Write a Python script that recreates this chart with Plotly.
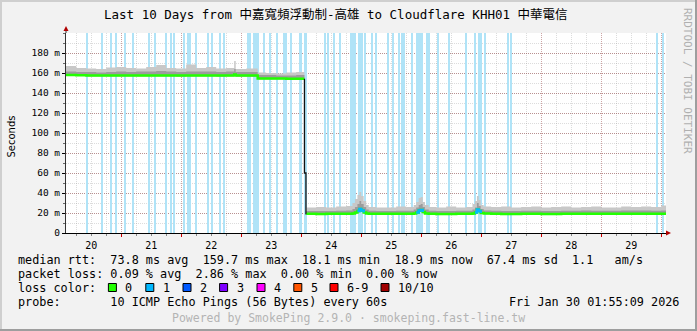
import plotly.graph_objects as go
import pandas as pd

# ---------------- data ----------------
BASE = pd.Timestamp("2026-01-20 00:00:00")
RANGE_START = "2026-01-20 01:55:09"
RANGE_END = "2026-01-30 01:55:09"

# segment before the drop (hours since Jan 20 00:00)
t_a = [1.9, 6, 10, 14, 18, 22, 26, 30, 34, 38, 42, 46, 50, 54, 58, 62, 66, 69.2, 69.8, 74,
       78.6, 82, 86, 90, 94, 97.3]
med_a = [158.0, 157.8, 157.6, 157.5, 157.5, 157.6, 157.6, 157.5, 157.5, 157.6, 157.5, 157.4, 157.5,
         157.6, 157.5, 157.4, 157.5, 158.5, 157.4, 157.4, 154.5, 154.5, 154.5, 154.3, 154.3, 154.3]
lo_a = [157.2, 157.0, 156.8, 156.7, 156.7, 156.8, 156.8, 156.7, 156.7, 156.8, 156.7, 156.6, 156.7,
        156.8, 156.7, 156.6, 156.7, 157.5, 156.6, 156.6, 153.7, 153.7, 153.7, 153.5, 153.5, 153.5]
q_a = [161.5, 161.0, 161.0, 160.5, 161.0, 161.5, 161.0, 161.5, 161.5, 162.0, 161.5, 161.0, 161.5,
       161.5, 161.5, 161.0, 161.5, 164.0, 161.0, 161.0, 158.0, 158.0, 157.5, 157.5, 158.0, 158.0]
hi_a = [167.0, 165.0, 164.5, 164.0, 165.5, 166.0, 165.0, 164.5, 166.0, 168.0, 165.0, 164.5, 168.5,
        165.0, 166.0, 164.5, 165.0, 172.0, 164.0, 164.5, 160.5, 160.0, 159.5, 160.5, 161.0, 160.5]

# the drop
drop_hours = [97.3, 97.9, 98.0]
drop_vals = [154.3, 60.0, 19.2]

# segment after the drop
t_b = [98.0, 102, 106, 110, 114, 116.5, 117.5, 118.5, 119.3, 120, 121, 122, 123, 126, 130, 134,
       138, 141, 142, 143, 143.8, 144.6, 145.5, 147, 150, 154, 158, 162, 164.5, 165.5, 166.3, 167,
       167.8, 169, 172, 176, 180, 184, 188, 192, 196, 200, 204, 208, 212, 216, 220, 224, 228, 232,
       236, 240, 241.92]
med_b = [19.2, 19.1, 19.2, 19.3, 19.3, 19.6, 20.5, 22.0, 24.0, 22.5, 20.5, 19.6, 19.3, 19.2, 19.2,
         19.3, 19.3, 19.5, 20.5, 22.5, 23.0, 21.0, 19.6, 19.3, 19.1, 19.1, 19.2, 19.2, 19.5, 20.5,
         23.5, 22.0, 20.0, 19.4, 19.2, 19.1, 19.1, 19.2, 19.2, 19.1, 19.1, 19.2, 19.2, 19.3, 19.2,
         19.2, 19.2, 19.3, 19.3, 19.3, 19.2, 19.2, 19.2]
lo_b = [18.5, 18.4, 18.5, 18.6, 18.6, 18.9, 19.5, 20.5, 22.0, 21.0, 19.5, 18.9, 18.6, 18.5, 18.5,
        18.6, 18.6, 18.8, 19.5, 21.0, 21.5, 19.8, 18.9, 18.6, 18.4, 18.4, 18.5, 18.5, 18.8, 19.5,
        22.0, 20.5, 19.2, 18.7, 18.5, 18.4, 18.4, 18.5, 18.5, 18.4, 18.4, 18.5, 18.5, 18.6, 18.5,
        18.5, 18.5, 18.6, 18.6, 18.6, 18.5, 18.5, 18.5]
q_b = [22.0, 22.0, 22.0, 22.3, 22.5, 24.0, 26.0, 29.0, 32.0, 29.0, 26.0, 23.5, 22.3, 22.0, 22.0,
       22.3, 22.3, 23.5, 25.5, 28.0, 29.0, 26.0, 23.5, 22.3, 22.0, 22.0, 22.3, 22.3, 23.5, 25.5,
       30.0, 27.0, 24.0, 22.5, 22.3, 22.0, 22.0, 22.3, 22.3, 22.0, 22.0, 22.3, 22.3, 22.5, 22.3,
       22.3, 22.3, 22.5, 22.5, 22.5, 22.3, 22.5, 22.5]
hi_b = [25.5, 26.0, 25.5, 26.5, 27.0, 30.0, 34.0, 38.0, 41.0, 37.0, 32.0, 28.0, 26.0, 25.5, 25.5,
        26.5, 26.0, 28.0, 31.0, 35.0, 36.0, 31.0, 28.0, 26.0, 25.5, 26.5, 25.5, 26.0, 29.0, 32.0,
        37.0, 33.0, 28.0, 26.5, 26.0, 26.5, 25.5, 26.0, 26.5, 25.5, 26.0, 26.5, 25.5, 26.0, 26.5,
        25.5, 25.5, 26.5, 26.0, 26.5, 26.0, 27.5, 27.5]

# median portions with 1/10 loss
loss_med_hours = [118.5, 119.3, 120, 121, None, 142, 143, 143.8, 144.6, None, 165.5, 166.3, 167, 167.8]
loss_med_vals = [22.0, 24.0, 22.5, 20.5, None, 20.5, 22.5, 23.0, 21.0, None, 20.5, 23.5, 22.0, 20.0]

# packet-loss background bars (hours) and their widths (hours)
loss_hours = [10.3, 16.3, 19.9, 21.8, 25.5, 28.6, 35.2, 37.5, 41.9, 43.9, 45.1, 49.0, 50.6, 51.5,
              54.0, 58.8, 60.3, 63.6, 65.2, 74.6, 75.5, 77.1, 77.9, 78.8, 81.1, 83.6, 86.3, 89.1,
              90.0, 91.9, 95.8, 97.8, 105.5, 106.8, 109.1, 111.5, 115.9, 116.6, 117.6, 119.7, 121.5,
              124.2, 126.0, 130.6, 132.6, 135.0, 136.2, 137.2, 140.4, 143.4, 146.3, 147.2, 150.6,
              155.1, 161.8, 165.5, 167.5, 169.5, 178.6, 179.9, 238.4, 240.8]
loss_widths = [0.25, 0.25, 0.25, 0.45, 0.25, 0.45, 0.25, 0.25, 0.25, 0.25, 0.25, 0.45, 0.25, 0.25,
               0.45, 0.65, 0.25, 0.25, 1.0, 0.25, 0.25, 0.25, 0.25, 0.25, 0.25, 0.25, 0.25, 0.25,
               0.25, 0.25, 0.65, 0.65, 0.25, 0.25, 0.25, 0.25, 0.25, 0.25, 0.25, 2.0, 0.25,
               0.25, 0.25, 0.25, 0.25, 0.25, 0.25, 0.25, 0.25, 3.0, 0.25, 0.25, 0.25,
               0.25, 0.25, 0.25, 1.7, 0.25, 0.25, 0.25, 0.65, 0.25]

y_ticks = [0, 20, 40, 60, 80, 100, 120, 140, 160, 180]
y_ticktext = ["0", "20 m", "40 m", "60 m", "80 m", "100 m", "120 m", "140 m", "160 m", "180 m"]

loss_labels = ["0", "1", "2", "3", "4", "5", "6-9", "10/10"]
loss_colors = ["#22ff00", "#00b8ff", "#0059ff", "#7e00ff", "#ff00ff", "#ff5500", "#ff0000", "#a10000"]

legend_rtt = "median rtt:  73.8 ms avg  159.7 ms max  18.1 ms min  18.9 ms now  67.4 ms sd  1.1   am/s"
legend_loss = "packet loss: 0.09 % avg  2.86 % max  0.00 % min  0.00 % now"
legend_color = "loss color:"
legend_probe = "probe:       10 ICMP Echo Pings (56 Bytes) every 60s"
legend_date = "Fri Jan 30 01:55:09 2026"
legend_footer = "Powered by SmokePing 2.9.0 · smokeping.fast-line.tw"

# ---------------- helpers ----------------
def to_dt(hours):
    return [None if h is None else BASE + pd.Timedelta(hours=h) for h in hours]

PL, PT, PW, PH = 66, 33, 600, 200
W, H = 697, 331


def px(x):
    return (x - PL) / PW


def py(y):
    return (PT + PH - y) / PH


def nb(s):
    return s.replace(" ", "\u00a0")


MONO = "DejaVu Sans Mono, Noto Sans CJK TC, monospace"
LOSS_BAR = "#b0e3f7"

fig = go.Figure()

# loss background bars
fig.add_trace(go.Bar(
    x=to_dt(loss_hours), y=[200] * len(loss_hours),
    width=[w * 3600000 for w in loss_widths],
    marker=dict(color=LOSS_BAR, line=dict(width=0)),
    showlegend=False, hoverinfo="skip"))


def smoke(t, lo, hi, color):
    fig.add_trace(go.Scatter(x=to_dt(t), y=lo, mode="lines", line=dict(width=0, shape="hv"),
                             showlegend=False, hoverinfo="skip"))
    fig.add_trace(go.Scatter(x=to_dt(t), y=hi, mode="lines", line=dict(width=0, shape="hv"),
                             fill="tonexty", fillcolor=color, showlegend=False, hoverinfo="skip"))


for t, lo, q, hi in [(t_a, lo_a, q_a, hi_a), (t_b, lo_b, q_b, hi_b)]:
    smoke(t, lo, hi, "#c8c8c8")
    smoke(t, lo, q, "#9c9c9c")

# median lines
for t, m in [(t_a, med_a), (t_b, med_b)]:
    fig.add_trace(go.Scatter(x=to_dt(t), y=m, mode="lines",
                             line=dict(color=loss_colors[0], width=2.5, shape="hv"),
                             showlegend=False, hoverinfo="skip"))
fig.add_trace(go.Scatter(x=to_dt(loss_med_hours), y=loss_med_vals, mode="lines",
                         line=dict(color=loss_colors[1], width=2.5, shape="hv"),
                         showlegend=False, hoverinfo="skip"))
fig.add_trace(go.Scatter(x=to_dt(drop_hours), y=drop_vals, mode="lines",
                         line=dict(color="#111111", width=1.3, shape="vh"),
                         showlegend=False, hoverinfo="skip"))

MGRID = "rgba(130,30,30,0.40)"
GRID = "rgba(140,140,140,0.30)"
DASH = "1px,1px"

fig.update_layout(
    width=W, height=H, autosize=False,
    margin=dict(l=PL, r=W - PL - PW, t=PT, b=H - PT - PH, pad=0),
    paper_bgcolor="#f2f2f2", plot_bgcolor="#ffffff",
    bargap=0, showlegend=False,
    xaxis=dict(
        type="date", range=[RANGE_START, RANGE_END],
        tick0="2026-01-20", dtick=86400000, tickformat="%d", ticklabelmode="period",
        showgrid=True, gridcolor=MGRID, griddash=DASH, gridwidth=1,
        ticks="outside", ticklen=3, tickcolor="#cc0000", tickwidth=1,
        showline=True, linecolor="#000000", linewidth=1, zeroline=False,
        tickfont=dict(family=MONO, size=10, color="#000000"),
        minor=dict(dtick=6 * 3600000, tick0="2026-01-20", showgrid=True, gridcolor=GRID,
                   griddash=DASH, ticks="outside", ticklen=2, tickcolor="#888888"),
        layer="above traces", fixedrange=True),
    yaxis=dict(
        range=[0, 200], tickvals=y_ticks, ticktext=y_ticktext,
        showgrid=True, gridcolor=MGRID, griddash=DASH, gridwidth=1,
        ticks="outside", ticklen=3, tickcolor="#000000",
        showline=True, linecolor="#333333", linewidth=1, zeroline=False,
        tickfont=dict(family=MONO, size=9.5, color="#000000"),
        minor=dict(dtick=10, showgrid=True, gridcolor=GRID, griddash=DASH,
                   ticks="outside", ticklen=2, tickcolor="#666666"),
        layer="above traces", fixedrange=True),
)

ann = []
shapes = []

# title
ann.append(dict(x=px(336), y=py(15), xref="paper", yref="paper", showarrow=False,
                text="Last 10 Days from 中嘉寬頻浮動制-高雄 to Cloudflare KHH01 中華電信",
                font=dict(family=MONO, size=12.5, color="#000000"), xanchor="center", yanchor="middle"))
# y title
ann.append(dict(x=px(10.5), y=py(137), xref="paper", yref="paper", showarrow=False,
                text="Seconds", textangle=-90,
                font=dict(family="DejaVu Sans", size=10, color="#000000"), xanchor="center", yanchor="middle"))
# watermark
ann.append(dict(x=px(688), y=py(81), xref="paper", yref="paper", showarrow=False,
                text="RRDTOOL / TOBI OETIKER", textangle=90,
                font=dict(family=MONO, size=11, color="#b0b0b0"), xanchor="center", yanchor="middle"))

LEG_FONT = dict(family=MONO, size=11.8, color="#000000")


def txt(x, y, s, anchor="left", font=LEG_FONT):
    ann.append(dict(x=px(x), y=py(y), xref="paper", yref="paper", showarrow=False, text=nb(s),
                    font=font, xanchor=anchor, yanchor="middle"))


y1, y2, y3, y4, y5 = 259.5, 273.5, 287.5, 301.5, 318
txt(16, y1, legend_rtt)
txt(16, y2, legend_loss)
txt(16, y3, legend_color)
box_x = [108.4, 145.8, 183.0, 219.6, 257.0, 293.8, 330.0, 381.0]
for bx, lab, col in zip(box_x, loss_labels, loss_colors):
    shapes.append(dict(type="rect", xref="paper", yref="paper",
                       x0=px(bx), x1=px(bx + 8), y0=py(y3 + 4), y1=py(y3 - 4),
                       fillcolor=col, line=dict(color="#000000", width=1)))
    txt(bx + 15, y3, lab)
txt(16, y4, legend_probe)
txt(681, y4, legend_date, anchor="right")
txt(348.5, y5, legend_footer, anchor="center", font=dict(family=MONO, size=11.5, color="#b4b4b4"))

# axis arrows
ARROW = "#b00000"
shapes.append(dict(type="line", xref="paper", yref="paper", x0=px(66), x1=px(66), y0=py(33), y1=py(30),
                   line=dict(color="#333333", width=1)))
shapes.append(dict(type="path", xref="paper", yref="paper",
                   path=f"M {px(63.5)},{py(31)} L {px(68.5)},{py(31)} L {px(66)},{py(26)} Z",
                   fillcolor=ARROW, line=dict(width=0)))
shapes.append(dict(type="path", xref="paper", yref="paper",
                   path=f"M {px(666)},{py(230.5)} L {px(666)},{py(235.5)} L {px(671)},{py(233)} Z",
                   fillcolor=ARROW, line=dict(width=0)))
# image frame (rrdtool shading)
shapes.append(dict(type="rect", xref="paper", yref="paper", x0=px(0), x1=px(2), y0=py(331), y1=py(0),
                   fillcolor="#cfcfcf", line=dict(width=0)))
shapes.append(dict(type="rect", xref="paper", yref="paper", x0=px(0), x1=px(697), y0=py(2), y1=py(0),
                   fillcolor="#cfcfcf", line=dict(width=0)))
shapes.append(dict(type="rect", xref="paper", yref="paper", x0=px(695), x1=px(697), y0=py(331), y1=py(0),
                   fillcolor="#9e9e9e", line=dict(width=0)))
shapes.append(dict(type="rect", xref="paper", yref="paper", x0=px(0), x1=px(697), y0=py(331), y1=py(329),
                   fillcolor="#9e9e9e", line=dict(width=0)))

fig.update_layout(annotations=ann, shapes=shapes)

fig.write_html("out.html", config={"displayModeBar": False})
